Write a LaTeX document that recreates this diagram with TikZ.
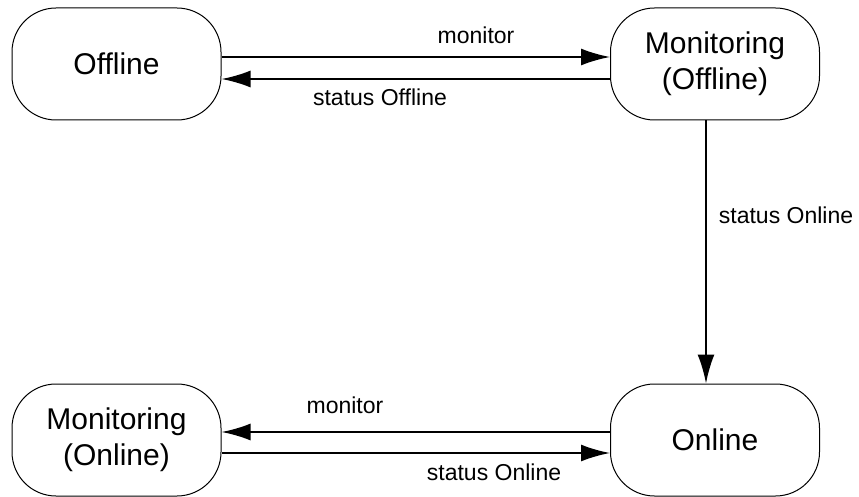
\documentclass[tikz,border=0pt]{standalone}
\usepackage{fontspec}
\setmainfont{Liberation Sans}
\usetikzlibrary{arrows.meta}
\tikzstyle{state}=[draw, line width=1pt, rounded corners=44pt, minimum width=209pt, minimum height=112pt, align=center, font=\fontsize{30}{36}\selectfont]
\tikzstyle{trans}=[line width=2pt, -{Latex[length=29pt, width=17pt]}]
\tikzstyle{lbl}=[inner sep=0pt, font=\fontsize{23}{28}\selectfont]

\begin{document}
\begin{tikzpicture}[x=1pt, y=-1pt]
    \useasboundingbox (0,0) rectangle (859,497);
% States
    \node[state] (off) at (116.5,64) {Offline};
    \node[state] (monoff) at (715,64) {Monitoring\\(Offline)};
    \node[state] (monon) at (116.5,440) {Monitoring\\(Online)};
    \node[state] (on) at (715,440) {Online};
% Transitions
    \draw[trans] ([yshift=7pt]off.east) -- ([yshift=7pt]monoff.west);
    \draw[trans] ([yshift=-15pt]monoff.west) -- ([yshift=-15pt]off.east);
    \draw[trans] ([xshift=-9pt]monoff.south) -- ([xshift=-9pt]on.north);
    \draw[trans] ([yshift=8pt]on.west) -- ([yshift=8pt]monon.west -| monon.east);
    \draw[trans] ([yshift=-13pt]monon.east) -- ([yshift=-13pt]on.west);
% Labels
    \node[lbl] (l1) at (476,35) {monitor};
    \node[lbl] (l2) at (380,97) {status Offline};
    \node[lbl] (l3) at (786,215) {status Online};
    \node[lbl] (l4) at (345,405) {monitor};
    \node[lbl] (l5) at (494,472) {status Online};
\end{tikzpicture}
\end{document}
